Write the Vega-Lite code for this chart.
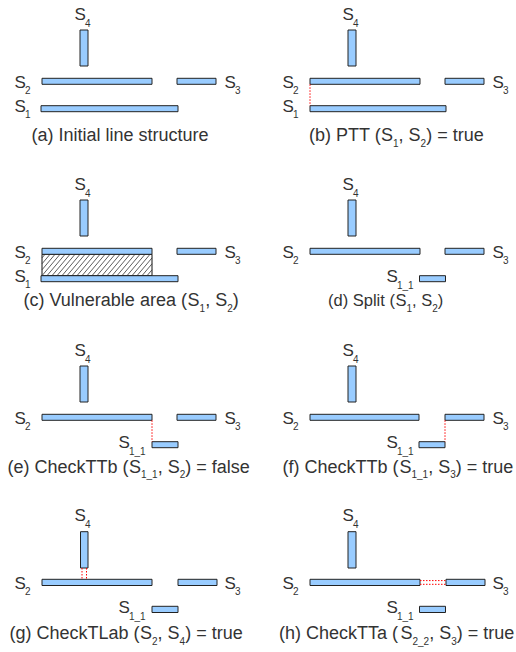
{
  "$schema": "https://vega.github.io/schema/vega-lite/v6.json",
  "width": 516,
  "height": 652,
  "padding": 0,
  "autosize": {"type": "fit", "contains": "padding"},
  "background": "white",
  "config": {"view": {"stroke": null}},
  "datasets": {
    "areas": [
      {"panel": "c", "x": 42, "x2": 152, "y": 254.3, "y2": 275.7}
    ],
    "hatch": [
      {"x": 42, "y": 257.9, "x2": 45, "y2": 254.3},
      {"x": 42, "y": 263.8, "x2": 50, "y2": 254.3},
      {"x": 42, "y": 269.8, "x2": 55, "y2": 254.3},
      {"x": 42, "y": 275.7, "x2": 60, "y2": 254.3},
      {"x": 47, "y": 275.7, "x2": 65, "y2": 254.3},
      {"x": 52, "y": 275.7, "x2": 70, "y2": 254.3},
      {"x": 57, "y": 275.7, "x2": 75, "y2": 254.3},
      {"x": 62, "y": 275.7, "x2": 80, "y2": 254.3},
      {"x": 67, "y": 275.7, "x2": 85, "y2": 254.3},
      {"x": 72, "y": 275.7, "x2": 90, "y2": 254.3},
      {"x": 77, "y": 275.7, "x2": 95, "y2": 254.3},
      {"x": 82, "y": 275.7, "x2": 100, "y2": 254.3},
      {"x": 87, "y": 275.7, "x2": 105, "y2": 254.3},
      {"x": 92, "y": 275.7, "x2": 110, "y2": 254.3},
      {"x": 97, "y": 275.7, "x2": 115, "y2": 254.3},
      {"x": 102, "y": 275.7, "x2": 120, "y2": 254.3},
      {"x": 107, "y": 275.7, "x2": 125, "y2": 254.3},
      {"x": 112, "y": 275.7, "x2": 130, "y2": 254.3},
      {"x": 117, "y": 275.7, "x2": 135, "y2": 254.3},
      {"x": 122, "y": 275.7, "x2": 140, "y2": 254.3},
      {"x": 127, "y": 275.7, "x2": 145, "y2": 254.3},
      {"x": 132, "y": 275.7, "x2": 150, "y2": 254.3},
      {"x": 137, "y": 275.7, "x2": 152, "y2": 257.9},
      {"x": 142, "y": 275.7, "x2": 152, "y2": 263.8},
      {"x": 147, "y": 275.7, "x2": 152, "y2": 269.8}
    ],
    "bars": [
      {"panel": "a", "seg": "S4", "x": 80, "x2": 88, "y": 30, "y2": 66},
      {"panel": "a", "seg": "S2", "x": 42, "x2": 152, "y": 78.3, "y2": 84.3},
      {"panel": "a", "seg": "S3", "x": 177, "x2": 216, "y": 78.3, "y2": 84.3},
      {"panel": "a", "seg": "S1", "x": 41, "x2": 178, "y": 105.7, "y2": 111.7},
      {"panel": "b", "seg": "S4", "x": 348, "x2": 356, "y": 30, "y2": 66},
      {"panel": "b", "seg": "S2", "x": 310, "x2": 420, "y": 78.3, "y2": 84.3},
      {"panel": "b", "seg": "S3", "x": 445, "x2": 484, "y": 78.3, "y2": 84.3},
      {"panel": "b", "seg": "S1", "x": 310, "x2": 446, "y": 105.7, "y2": 111.7},
      {"panel": "c", "seg": "S4", "x": 80, "x2": 88, "y": 200, "y2": 236},
      {"panel": "c", "seg": "S2", "x": 42, "x2": 152, "y": 248.3, "y2": 254.3},
      {"panel": "c", "seg": "S3", "x": 177, "x2": 216, "y": 248.3, "y2": 254.3},
      {"panel": "c", "seg": "S1", "x": 41, "x2": 178, "y": 275.7, "y2": 281.7},
      {"panel": "d", "seg": "S4", "x": 348, "x2": 356, "y": 200, "y2": 236},
      {"panel": "d", "seg": "S2", "x": 310, "x2": 420, "y": 248.3, "y2": 254.3},
      {"panel": "d", "seg": "S3", "x": 445, "x2": 484, "y": 248.3, "y2": 254.3},
      {"panel": "d", "seg": "S1_1", "x": 419.5, "x2": 445.5, "y": 275.7, "y2": 281.7},
      {"panel": "e", "seg": "S4", "x": 80, "x2": 88, "y": 366, "y2": 402},
      {"panel": "e", "seg": "S2", "x": 42, "x2": 152, "y": 414.3, "y2": 420.3},
      {"panel": "e", "seg": "S3", "x": 177, "x2": 216, "y": 414.3, "y2": 420.3},
      {"panel": "e", "seg": "S1_1", "x": 152, "x2": 178, "y": 441.7, "y2": 447.7},
      {"panel": "f", "seg": "S4", "x": 348, "x2": 356, "y": 366, "y2": 402},
      {"panel": "f", "seg": "S2", "x": 310, "x2": 419, "y": 414.3, "y2": 420.3},
      {"panel": "f", "seg": "S3", "x": 445, "x2": 484, "y": 414.3, "y2": 420.3},
      {"panel": "f", "seg": "S1_1", "x": 419, "x2": 445, "y": 441.7, "y2": 447.7},
      {"panel": "g", "seg": "S4", "x": 80.5, "x2": 88, "y": 531.7, "y2": 568},
      {"panel": "g", "seg": "S2", "x": 42, "x2": 152, "y": 579.3, "y2": 585.5},
      {"panel": "g", "seg": "S3", "x": 178, "x2": 217, "y": 579.3, "y2": 585.5},
      {"panel": "g", "seg": "S1_1", "x": 152, "x2": 178, "y": 606.3, "y2": 612.5},
      {"panel": "h", "seg": "S4", "x": 348, "x2": 356, "y": 531.7, "y2": 568},
      {"panel": "h", "seg": "S2", "x": 310, "x2": 420, "y": 579.3, "y2": 585.5},
      {"panel": "h", "seg": "S3", "x": 446, "x2": 485, "y": 579.3, "y2": 585.5},
      {"panel": "h", "seg": "S1_1", "x": 419.5, "x2": 445.5, "y": 606.3, "y2": 612.5}
    ],
    "links": [
      {"panel": "b", "x": 310, "x2": 310, "y": 84.3, "y2": 105.7},
      {"panel": "e", "x": 152, "x2": 152, "y": 420.3, "y2": 441.7},
      {"panel": "f", "x": 445, "x2": 445, "y": 420.3, "y2": 441.7},
      {"panel": "g", "x": 82, "x2": 82, "y": 568, "y2": 579.3},
      {"panel": "g", "x": 86.5, "x2": 86.5, "y": 568, "y2": 579.3},
      {"panel": "h", "x": 420, "x2": 446, "y": 580.6, "y2": 580.6},
      {"panel": "h", "x": 420, "x2": 446, "y": 584.3, "y2": 584.3}
    ],
    "texts": [
      {"panel": "a", "role": "label", "text": "S", "x": 74.5, "y": 20},
      {"panel": "a", "role": "sub", "text": "4", "x": 85, "y": 26.5},
      {"panel": "a", "role": "label", "text": "S", "x": 14.5, "y": 87.5},
      {"panel": "a", "role": "sub", "text": "2", "x": 25, "y": 93.5},
      {"panel": "a", "role": "label", "text": "S", "x": 224.5, "y": 87.5},
      {"panel": "a", "role": "sub", "text": "3", "x": 235, "y": 93.5},
      {"panel": "a", "role": "label", "text": "S", "x": 14.5, "y": 111.5},
      {"panel": "a", "role": "sub", "text": "1", "x": 25, "y": 118},
      {"panel": "b", "role": "label", "text": "S", "x": 342.5, "y": 20},
      {"panel": "b", "role": "sub", "text": "4", "x": 353, "y": 26.5},
      {"panel": "b", "role": "label", "text": "S", "x": 282.5, "y": 87.5},
      {"panel": "b", "role": "sub", "text": "2", "x": 293, "y": 93.5},
      {"panel": "b", "role": "label", "text": "S", "x": 492.5, "y": 87.5},
      {"panel": "b", "role": "sub", "text": "3", "x": 503, "y": 93.5},
      {"panel": "b", "role": "label", "text": "S", "x": 282.5, "y": 111.5},
      {"panel": "b", "role": "sub", "text": "1", "x": 293, "y": 118},
      {"panel": "c", "role": "label", "text": "S", "x": 74.5, "y": 190},
      {"panel": "c", "role": "sub", "text": "4", "x": 85, "y": 196.5},
      {"panel": "c", "role": "label", "text": "S", "x": 14.5, "y": 257.5},
      {"panel": "c", "role": "sub", "text": "2", "x": 25, "y": 263.5},
      {"panel": "c", "role": "label", "text": "S", "x": 224.5, "y": 257.5},
      {"panel": "c", "role": "sub", "text": "3", "x": 235, "y": 263.5},
      {"panel": "c", "role": "label", "text": "S", "x": 14.5, "y": 281.5},
      {"panel": "c", "role": "sub", "text": "1", "x": 25, "y": 288},
      {"panel": "d", "role": "label", "text": "S", "x": 342.5, "y": 190},
      {"panel": "d", "role": "sub", "text": "4", "x": 353, "y": 196.5},
      {"panel": "d", "role": "label", "text": "S", "x": 282.5, "y": 257.5},
      {"panel": "d", "role": "sub", "text": "2", "x": 293, "y": 263.5},
      {"panel": "d", "role": "label", "text": "S", "x": 492.5, "y": 257.5},
      {"panel": "d", "role": "sub", "text": "3", "x": 503, "y": 263.5},
      {"panel": "d", "role": "label", "text": "S", "x": 386.5, "y": 282},
      {"panel": "d", "role": "sub", "text": "1_1", "x": 397, "y": 289},
      {"panel": "e", "role": "label", "text": "S", "x": 74.5, "y": 356},
      {"panel": "e", "role": "sub", "text": "4", "x": 85, "y": 362.5},
      {"panel": "e", "role": "label", "text": "S", "x": 14.5, "y": 423.5},
      {"panel": "e", "role": "sub", "text": "2", "x": 25, "y": 429.5},
      {"panel": "e", "role": "label", "text": "S", "x": 224.5, "y": 423.5},
      {"panel": "e", "role": "sub", "text": "3", "x": 235, "y": 429.5},
      {"panel": "e", "role": "label", "text": "S", "x": 118.5, "y": 448},
      {"panel": "e", "role": "sub", "text": "1_1", "x": 129, "y": 455},
      {"panel": "f", "role": "label", "text": "S", "x": 342.5, "y": 356},
      {"panel": "f", "role": "sub", "text": "4", "x": 353, "y": 362.5},
      {"panel": "f", "role": "label", "text": "S", "x": 282.5, "y": 423.5},
      {"panel": "f", "role": "sub", "text": "2", "x": 293, "y": 429.5},
      {"panel": "f", "role": "label", "text": "S", "x": 492.5, "y": 423.5},
      {"panel": "f", "role": "sub", "text": "3", "x": 503, "y": 429.5},
      {"panel": "f", "role": "label", "text": "S", "x": 386.5, "y": 448},
      {"panel": "f", "role": "sub", "text": "1_1", "x": 397, "y": 455},
      {"panel": "g", "role": "label", "text": "S", "x": 74.5, "y": 521},
      {"panel": "g", "role": "sub", "text": "4", "x": 85, "y": 527.5},
      {"panel": "g", "role": "label", "text": "S", "x": 14.5, "y": 588.5},
      {"panel": "g", "role": "sub", "text": "2", "x": 25, "y": 594.5},
      {"panel": "g", "role": "label", "text": "S", "x": 224.5, "y": 588.5},
      {"panel": "g", "role": "sub", "text": "3", "x": 235, "y": 594.5},
      {"panel": "g", "role": "label", "text": "S", "x": 118.5, "y": 613},
      {"panel": "g", "role": "sub", "text": "1_1", "x": 129, "y": 620},
      {"panel": "h", "role": "label", "text": "S", "x": 342.5, "y": 521},
      {"panel": "h", "role": "sub", "text": "4", "x": 353, "y": 527.5},
      {"panel": "h", "role": "label", "text": "S", "x": 282.5, "y": 588.5},
      {"panel": "h", "role": "sub", "text": "2", "x": 293, "y": 594.5},
      {"panel": "h", "role": "label", "text": "S", "x": 492.5, "y": 588.5},
      {"panel": "h", "role": "sub", "text": "3", "x": 503, "y": 594.5},
      {"panel": "h", "role": "label", "text": "S", "x": 386.5, "y": 613},
      {"panel": "h", "role": "sub", "text": "1_1", "x": 397, "y": 620},

      {"panel": "a", "role": "caption", "text": "(a) Initial line structure", "x": 31.5, "y": 141},

      {"panel": "b", "role": "caption", "text": "(b) PTT (", "x": 309, "y": 141},
      {"panel": "b", "role": "caption", "text": "S", "x": 381, "y": 141},
      {"panel": "b", "role": "sub", "text": "1", "x": 393, "y": 146.5},
      {"panel": "b", "role": "caption", "text": ", S", "x": 398.6, "y": 141},
      {"panel": "b", "role": "sub", "text": "2", "x": 420.6, "y": 146.5},
      {"panel": "b", "role": "caption", "text": ") = true", "x": 426.2, "y": 141},

      {"panel": "c", "role": "caption", "text": "(c) Vulnerable area (", "x": 23.5, "y": 306},
      {"panel": "c", "role": "caption", "text": "S", "x": 187.6, "y": 306},
      {"panel": "c", "role": "sub", "text": "1", "x": 199.6, "y": 311.5},
      {"panel": "c", "role": "caption", "text": ", S", "x": 205.2, "y": 306},
      {"panel": "c", "role": "sub", "text": "2", "x": 227.2, "y": 311.5},
      {"panel": "c", "role": "caption", "text": ")", "x": 232.8, "y": 306},

      {"panel": "d", "role": "captionsmall", "text": "(d) Split (", "x": 328, "y": 306},
      {"panel": "d", "role": "captionsmall", "text": "S", "x": 395.5, "y": 306},
      {"panel": "d", "role": "sub", "text": "1", "x": 406.5, "y": 311.5},
      {"panel": "d", "role": "captionsmall", "text": ", S", "x": 412, "y": 306},
      {"panel": "d", "role": "sub", "text": "2", "x": 432.2, "y": 311.5},
      {"panel": "d", "role": "captionsmall", "text": ")", "x": 437.8, "y": 306},

      {"panel": "e", "role": "caption", "text": "(e) CheckTTb (", "x": 7.5, "y": 472.5},
      {"panel": "e", "role": "caption", "text": "S", "x": 129, "y": 472.5},
      {"panel": "e", "role": "sub", "text": "1_1", "x": 141, "y": 478},
      {"panel": "e", "role": "caption", "text": ", S", "x": 157.7, "y": 472.5},
      {"panel": "e", "role": "sub", "text": "2", "x": 179.7, "y": 478},
      {"panel": "e", "role": "caption", "text": ") = false", "x": 185.3, "y": 472.5},

      {"panel": "f", "role": "caption", "text": "(f) CheckTTb (", "x": 282.5, "y": 472.5},
      {"panel": "f", "role": "caption", "text": "S", "x": 399.5, "y": 472.5},
      {"panel": "f", "role": "sub", "text": "1_1", "x": 411.5, "y": 478},
      {"panel": "f", "role": "caption", "text": ", S", "x": 428.2, "y": 472.5},
      {"panel": "f", "role": "sub", "text": "3", "x": 450.2, "y": 478},
      {"panel": "f", "role": "caption", "text": ") = true", "x": 455.8, "y": 472.5},

      {"panel": "g", "role": "caption", "text": "(g) CheckTLab (", "x": 9.5, "y": 639},
      {"panel": "g", "role": "caption", "text": "S", "x": 140, "y": 639},
      {"panel": "g", "role": "sub", "text": "2", "x": 152, "y": 644.5},
      {"panel": "g", "role": "caption", "text": ", S", "x": 157.6, "y": 639},
      {"panel": "g", "role": "sub", "text": "4", "x": 179.6, "y": 644.5},
      {"panel": "g", "role": "caption", "text": ") = true", "x": 185.2, "y": 639},

      {"panel": "h", "role": "caption", "text": "(h) CheckTTa (", "x": 279, "y": 639},
      {"panel": "h", "role": "caption", "text": "S", "x": 400.5, "y": 639},
      {"panel": "h", "role": "sub", "text": "2_2", "x": 412.5, "y": 644.5},
      {"panel": "h", "role": "caption", "text": ", S", "x": 429.2, "y": 639},
      {"panel": "h", "role": "sub", "text": "3", "x": 451.2, "y": 644.5},
      {"panel": "h", "role": "caption", "text": ") = true", "x": 456.8, "y": 639}
    ]
  },
  "encoding": {
    "x": {"field": "x", "type": "quantitative", "scale": {"domain": [0, 516], "nice": false, "zero": false}, "axis": null},
    "y": {"field": "y", "type": "quantitative", "scale": {"domain": [0, 652], "nice": false, "zero": false, "reverse": true}, "axis": null}
  },
  "layer": [
    {
      "data": {"name": "areas"},
      "mark": {"type": "rect", "fill": "white", "stroke": "#111111", "strokeWidth": 1},
      "encoding": {"x2": {"field": "x2"}, "y2": {"field": "y2"}}
    },
    {
      "data": {"name": "hatch"},
      "mark": {"type": "rule", "color": "#333333", "strokeWidth": 0.8},
      "encoding": {"x2": {"field": "x2"}, "y2": {"field": "y2"}}
    },
    {
      "data": {"name": "bars"},
      "mark": {"type": "rect", "fill": "#99ccff", "stroke": "#222222", "strokeWidth": 1},
      "encoding": {"x2": {"field": "x2"}, "y2": {"field": "y2"}}
    },
    {
      "data": {"name": "links"},
      "mark": {"type": "rule", "color": "#ff0000", "strokeWidth": 1, "strokeDash": [1.5, 1.5]},
      "encoding": {"x2": {"field": "x2"}, "y2": {"field": "y2"}}
    },
    {
      "data": {"name": "texts"},
      "transform": [{"filter": "datum.role === 'caption'"}],
      "mark": {"type": "text", "align": "left", "baseline": "alphabetic", "font": "Liberation Sans", "fontSize": 18, "color": "#333333"},
      "encoding": {"text": {"field": "text"}}
    },
    {
      "data": {"name": "texts"},
      "transform": [{"filter": "datum.role === 'captionsmall'"}],
      "mark": {"type": "text", "align": "left", "baseline": "alphabetic", "font": "Liberation Sans", "fontSize": 16.5, "color": "#333333"},
      "encoding": {"text": {"field": "text"}}
    },
    {
      "data": {"name": "texts"},
      "transform": [{"filter": "datum.role === 'label'"}],
      "mark": {"type": "text", "align": "left", "baseline": "alphabetic", "font": "Liberation Sans", "fontSize": 17, "color": "#333333"},
      "encoding": {"text": {"field": "text"}}
    },
    {
      "data": {"name": "texts"},
      "transform": [{"filter": "datum.role === 'sub'"}],
      "mark": {"type": "text", "align": "left", "baseline": "alphabetic", "font": "Liberation Sans", "fontSize": 10, "color": "#333333"},
      "encoding": {"text": {"field": "text"}}
    }
  ]
}
